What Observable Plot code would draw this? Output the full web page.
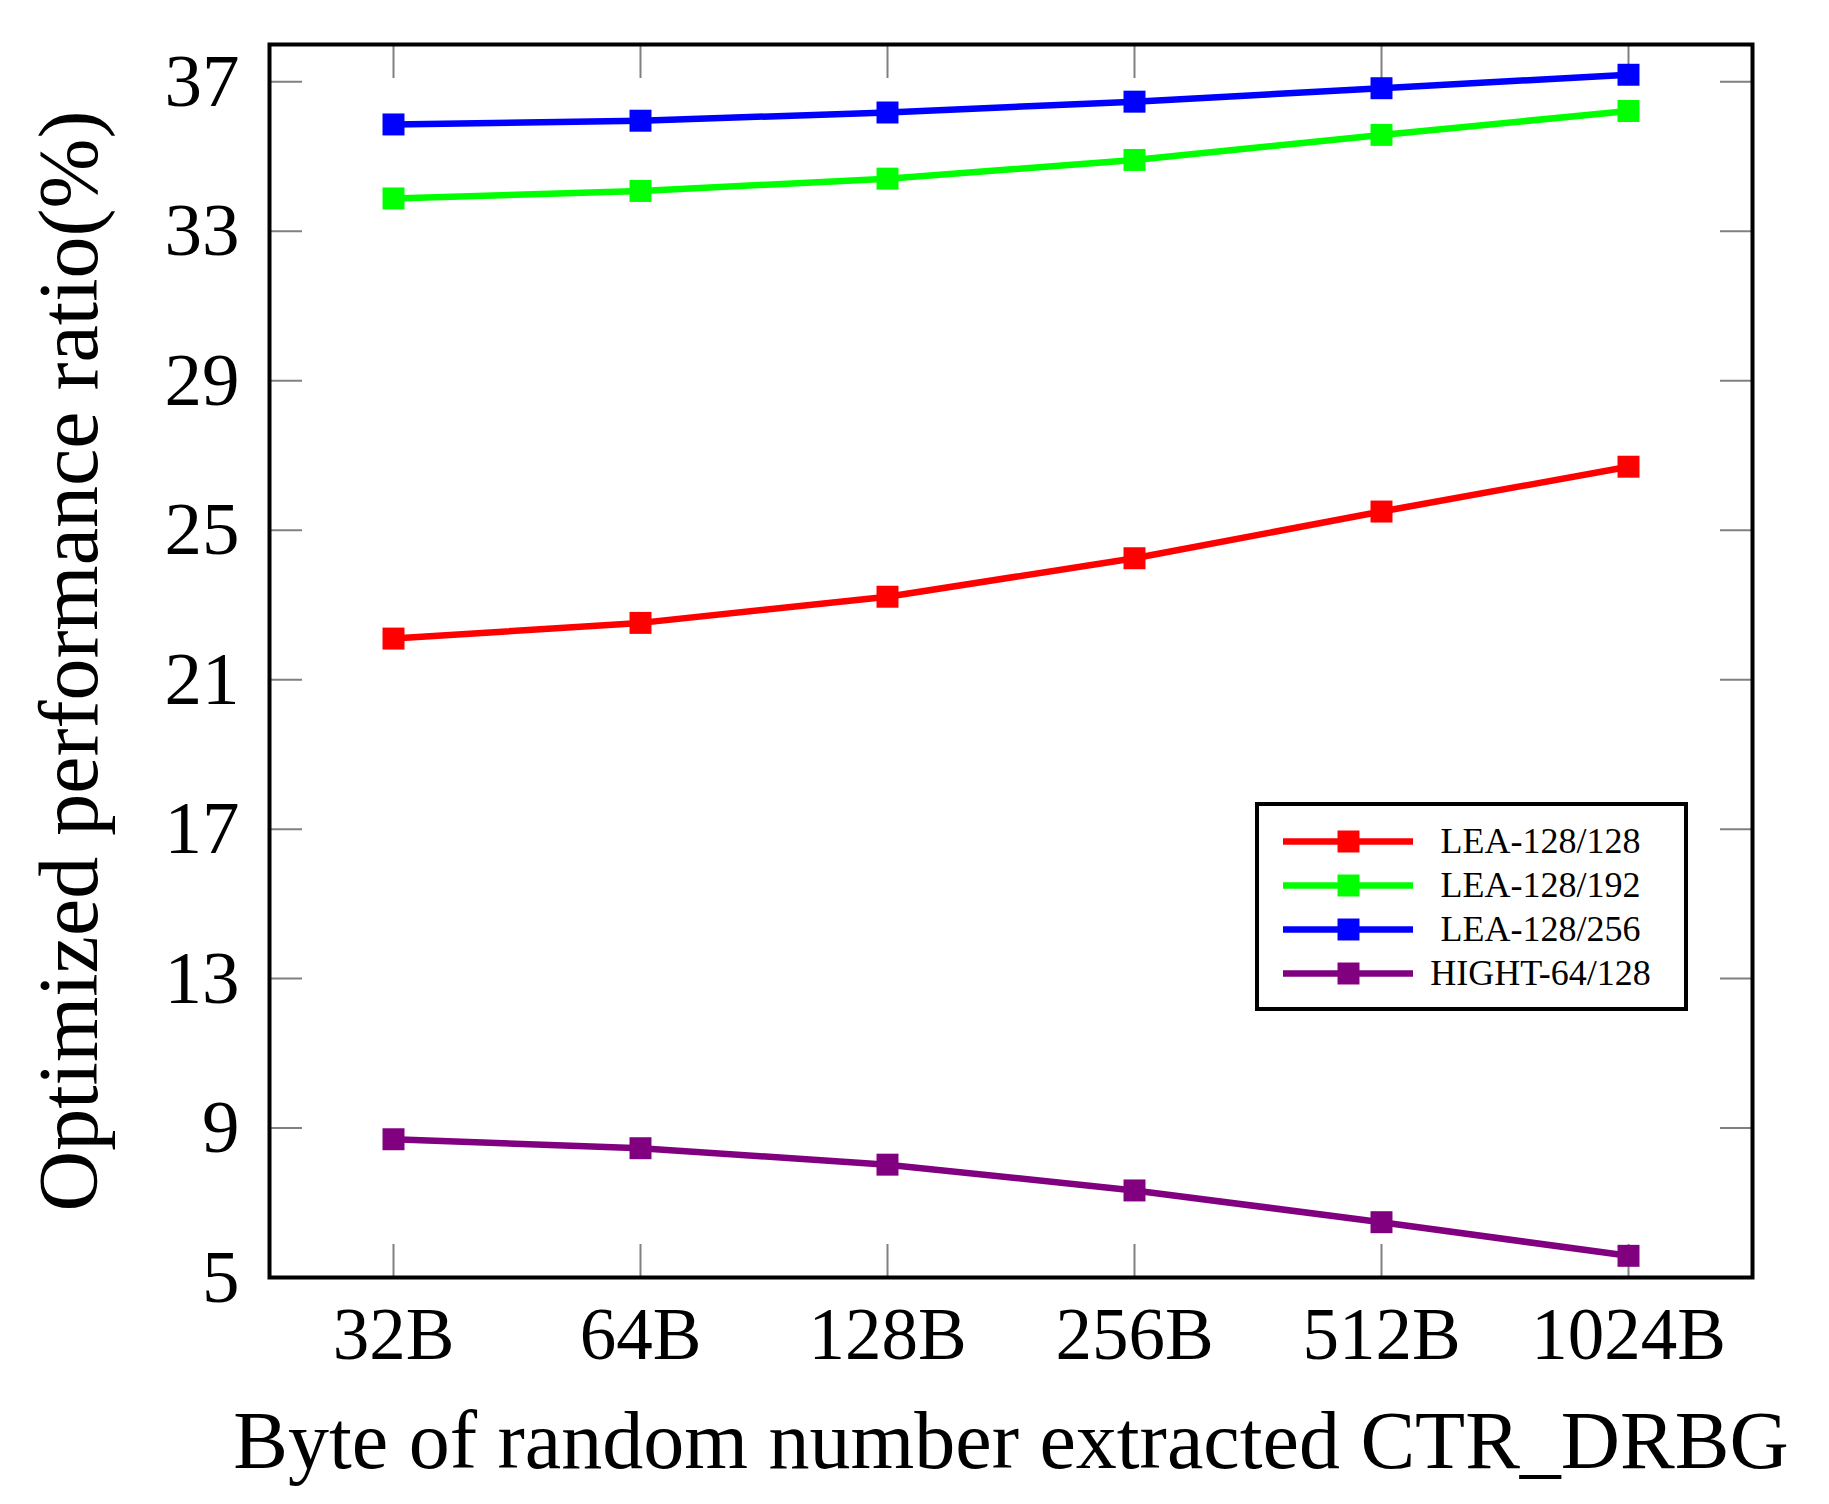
<!DOCTYPE html>
<html><head><meta charset="utf-8">
<script src="https://cdn.jsdelivr.net/npm/d3@7"></script>
<script src="https://cdn.jsdelivr.net/npm/@observablehq/plot@0.6"></script>
<style>
html,body{margin:0;padding:0;background:#fff;}
#chart{position:relative;width:1829px;height:1504px;}
#legend{position:absolute;left:1255px;top:802px;width:425px;height:201px;border:4px solid #000;background:#fff;}
#legend svg, #chart svg{display:block;}
</style></head><body><div id="chart"><div id="legend"></div></div>
<script>
const categories = ["32B","64B","128B","256B","512B","1024B"];
const seriesNames = ["LEA-128/128","LEA-128/192","LEA-128/256","HIGHT-64/128"];
const seriesColors = ["#ff0000","#00ff00","#0000ff","#800080"];
const lea128_128 = [22.10,22.52,23.22,24.25,25.50,26.70];
const lea128_192 = [33.88,34.08,34.41,34.91,35.58,36.22];
const lea128_256 = [35.86,35.96,36.18,36.47,36.83,37.19];
const hight64_128 = [8.70,8.46,8.02,7.33,6.48,5.58];
const yTicks = [5,9,13,17,21,25,29,33,37];
const xLabel = "Byte of random number extracted CTR_DRBG";
const yLabel = "Optimized performance ratio(%)";

const seriesValues = [lea128_128, lea128_192, lea128_256, hight64_128];
const data = [];
seriesNames.forEach((s, i) => categories.forEach((c, j) => data.push({series: s, cat: c, value: seriesValues[i][j]})));

const font = "'Liberation Serif', 'DejaVu Serif', serif";
const tickColor = "#808080";

const chart = Plot.plot({
  width: 1829, height: 1504,
  marginLeft: 269, marginRight: 77, marginTop: 44, marginBottom: 227,
  style: {fontFamily: font, background: "#fff", color: "#000"},
  x: {type: "point", domain: categories, padding: 0.5, label: null},
  y: {domain: [5, 38], label: null},
  color: {domain: seriesNames, range: seriesColors},
  marks: [
    Plot.axisY(yTicks, {anchor: "left", tickSize: 33, dx: 33, fill: "none", stroke: tickColor, strokeWidth: 2, label: null}),
    Plot.axisY(yTicks, {anchor: "right", tickSize: 33, dx: -33, fill: "none", stroke: tickColor, strokeWidth: 2, label: null}),
    Plot.axisX({anchor: "bottom", tickSize: 33, dy: -33, fill: "none", stroke: tickColor, strokeWidth: 2, label: null}),
    Plot.axisX({anchor: "top", tickSize: 33, dy: 33, fill: "none", stroke: tickColor, strokeWidth: 2, label: null}),
    Plot.axisY(yTicks, {anchor: "left", tickSize: 0, tickPadding: 30, fontSize: 75, label: null}),
    Plot.axisX({anchor: "bottom", tickSize: 0, tickPadding: 30, fontSize: 73, label: null}),
    Plot.line(data, {x: "cat", y: "value", z: "series", stroke: "series", strokeWidth: 6.5}),
    Plot.dot(data, {x: "cat", y: "value", fill: "series", symbol: "square", r: 12.4}),
    Plot.frame({stroke: "#000", strokeWidth: 4}),
    Plot.text([xLabel], {frameAnchor: "bottom", dy: 132, lineAnchor: "top", textAnchor: "middle", fontSize: 82, fill: "#000"}),
    Plot.text([yLabel], {frameAnchor: "left", rotate: -90, dx: -199, lineAnchor: "middle", textAnchor: "middle", fontSize: 84, fill: "#000"})
  ]
});
document.getElementById("chart").prepend(chart);

const legend = Plot.plot({
  width: 425, height: 201,
  marginLeft: 24, marginRight: 271, marginTop: 35, marginBottom: 34,
  style: {fontFamily: font, background: "#fff", color: "#000"},
  y: {type: "point", domain: seriesNames, padding: 0, axis: null},
  color: {domain: seriesNames, range: seriesColors},
  marks: [
    Plot.ruleY(seriesNames, {y: d => d, stroke: d => d, strokeWidth: 6.5}),
    Plot.dot(seriesNames, {y: d => d, frameAnchor: "middle", fill: d => d, symbol: "square", r: 12.4}),
    Plot.text(seriesNames, {y: d => d, text: d => d, frameAnchor: "right", dx: 127, textAnchor: "middle", fontSize: 36, fill: "#000"})
  ]
});
document.getElementById("legend").appendChild(legend);
</script>
</body></html>
